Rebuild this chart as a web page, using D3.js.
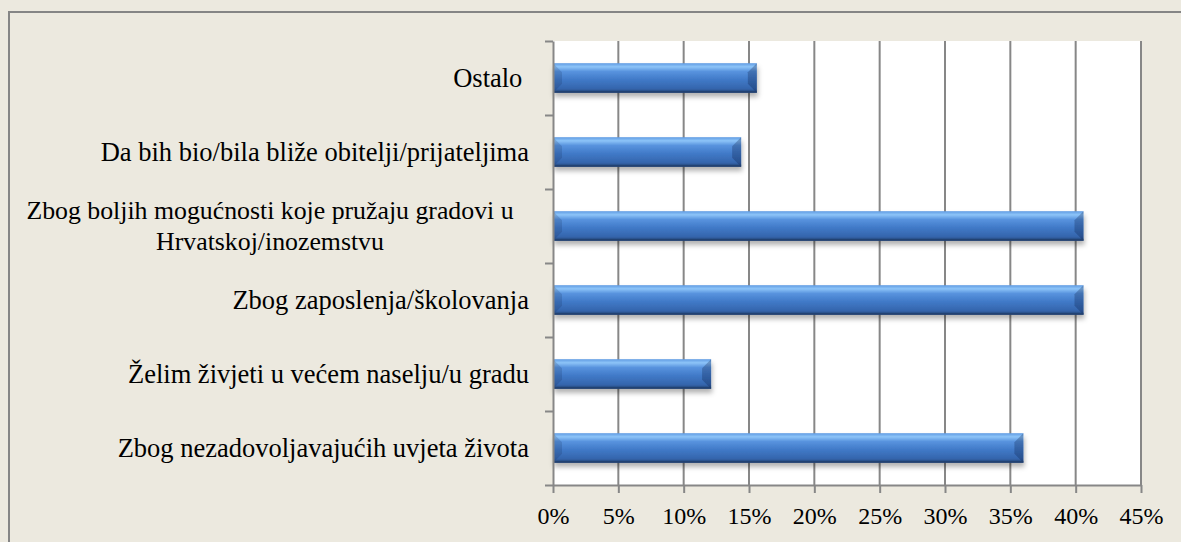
<!DOCTYPE html>
<html>
<head>
<meta charset="UTF-8"/>
<style>
  body { margin: 0; background: #ece9df; }
  svg { display: block; }
</style>
</head>
<body>
<script src="https://d3js.org/d3.v7.min.js"></script>
<script>
// categories top to bottom, labels split into lines
var categories = [
    ["Ostalo "],
    ["Da bih bio/bila bliže obitelji/prijateljima"],
    ["Zbog boljih mogućnosti koje pružaju gradovi u", "Hrvatskoj/inozemstvu"],
    ["Zbog zaposlenja/školovanja"],
    ["Želim živjeti u većem naselju/u gradu"],
    ["Zbog nezadovoljavajućih uvjeta života"]
];
var values = [0.156, 0.144, 0.406, 0.406, 0.121, 0.360];
var xTicks = [0, 0.05, 0.10, 0.15, 0.20, 0.25, 0.30, 0.35, 0.40, 0.45];

var width = 1181, height = 542;
var plotLeft = 553, plotRight = 1141, plotTop = 41, plotBottom = 485;
var serif = "'Liberation Serif', 'Times New Roman', serif";

var svg = d3.select("body").append("svg")
    .attr("width", width)
    .attr("height", height);

var defs = svg.append("defs");
var grad = defs.append("linearGradient")
    .attr("id", "barGrad")
    .attr("x1", 0).attr("y1", 0).attr("x2", 0).attr("y2", 1);
grad.append("stop").attr("offset", "0%").attr("stop-color", "#5f9be3");
grad.append("stop").attr("offset", "12%").attr("stop-color", "#8dc4f8");
grad.append("stop").attr("offset", "28%").attr("stop-color", "#5893de");
grad.append("stop").attr("offset", "55%").attr("stop-color", "#417ac8");
grad.append("stop").attr("offset", "85%").attr("stop-color", "#3566ae");
grad.append("stop").attr("offset", "100%").attr("stop-color", "#26497e");

var shadow = defs.append("filter").attr("id", "shadow")
    .attr("x", "-5%").attr("y", "-30%").attr("width", "110%").attr("height", "180%");
shadow.append("feDropShadow")
    .attr("dx", 1).attr("dy", 4)
    .attr("stdDeviation", 2.5)
    .attr("flood-color", "#000")
    .attr("flood-opacity", 0.3);

// outer frame
svg.append("rect")
    .attr("x", 9).attr("y", 12)
    .attr("width", 1200).attr("height", 600)
    .attr("fill", "#ece9df")
    .attr("stroke", "#858585")
    .attr("stroke-width", 2);

var x = d3.scaleLinear().domain([0, 0.45]).range([plotLeft, plotRight]);
var y = d3.scaleBand()
    .domain(d3.range(categories.length))
    .range([plotTop, plotBottom])
    .paddingInner(0.6)
    .paddingOuter(0.3);

// plot area
svg.append("rect")
    .attr("x", plotLeft).attr("y", plotTop)
    .attr("width", plotRight - plotLeft).attr("height", plotBottom - plotTop)
    .attr("fill", "#fff");

// gridlines
svg.append("g")
    .selectAll("line")
    .data(xTicks.slice(1))
    .enter()
    .append("line")
    .attr("x1", function(d) { return x(d); })
    .attr("x2", function(d) { return x(d); })
    .attr("y1", plotTop)
    .attr("y2", plotBottom)
    .attr("stroke", "#878787")
    .attr("stroke-width", 2);

// bars
var bars = svg.append("g")
    .selectAll("g")
    .data(values)
    .enter()
    .append("g")
    .attr("filter", "url(#shadow)");

bars.append("rect")
    .attr("x", x(0))
    .attr("y", function(d, i) { return y(i); })
    .attr("width", function(d) { return x(d) - x(0); })
    .attr("height", y.bandwidth())
    .attr("fill", "url(#barGrad)");

var b = 9;
bars.append("path")
    .attr("d", function(d, i) {
        var x0 = x(0), y0 = y(i), y1 = y(i) + y.bandwidth();
        return "M" + x0 + "," + y0 + "L" + (x0 + b) + "," + (y0 + b) +
            "L" + (x0 + b) + "," + (y1 - b) + "L" + x0 + "," + y1 + "Z";
    })
    .attr("fill", "rgba(10,30,70,0.16)");
bars.append("path")
    .attr("d", function(d, i) {
        var x1 = x(d), y0 = y(i), y1 = y(i) + y.bandwidth();
        return "M" + x1 + "," + y0 + "L" + (x1 - b) + "," + (y0 + b) +
            "L" + (x1 - b) + "," + (y1 - b) + "L" + x1 + "," + y1 + "Z";
    })
    .attr("fill", "rgba(10,30,70,0.28)");
bars.append("rect")
    .attr("x", x(0))
    .attr("y", function(d, i) { return y(i) + y.bandwidth() - 2; })
    .attr("width", function(d) { return x(d) - x(0); })
    .attr("height", 2)
    .attr("fill", "#223f6c")
    .attr("opacity", 0.8);

// x axis
var xAxis = svg.append("g")
    .attr("transform", "translate(0," + plotBottom + ")")
    .call(d3.axisBottom(x)
        .tickValues(xTicks)
        .tickSize(8)
        .tickSizeOuter(0)
        .tickPadding(14)
        .tickFormat(d3.format(".0%")));
xAxis.select(".domain").attr("stroke", "#878787").attr("stroke-width", 2);
xAxis.selectAll(".tick line").attr("stroke", "#878787").attr("stroke-width", 2);
xAxis.selectAll("text")
    .attr("font-size", 24)
    .attr("font-family", serif)
    .attr("fill", "#000");

// y axis with ticks at band boundaries
var yEdges = d3.scaleLinear().domain([0, categories.length]).range([plotTop, plotBottom]);
var yAxis = svg.append("g")
    .attr("transform", "translate(" + plotLeft + ",0)")
    .call(d3.axisLeft(yEdges)
        .tickValues(d3.range(categories.length + 1))
        .tickSize(8)
        .tickSizeOuter(0)
        .tickFormat(""));
yAxis.select(".domain").attr("stroke", "#878787").attr("stroke-width", 2);
yAxis.selectAll(".tick line").attr("stroke", "#878787").attr("stroke-width", 2);

// category labels
var labels = svg.append("g")
    .selectAll("text")
    .data(categories)
    .enter()
    .append("text")
    .attr("font-size", function(d) { return d.length > 1 ? 25.8 : 26.5; })
    .attr("font-family", serif)
    .attr("fill", "#000")
    .style("white-space", "pre")
    .attr("transform", function(d, i) {
        return "translate(0," + (y(i) + y.bandwidth() / 2) + ")";
    });

labels.each(function(lines) {
    var t = d3.select(this);
    var n = lines.length;
    var multi = n > 1;
    lines.forEach(function(line, j) {
        t.append("tspan")
            .attr("x", multi ? 270 : 529)
            .attr("text-anchor", multi ? "middle" : "end")
            .attr("y", (j - (n - 1) / 2) * 31)
            .attr("dy", "0.33em")
            .text(line);
    });
});
</script>
</body>
</html>
